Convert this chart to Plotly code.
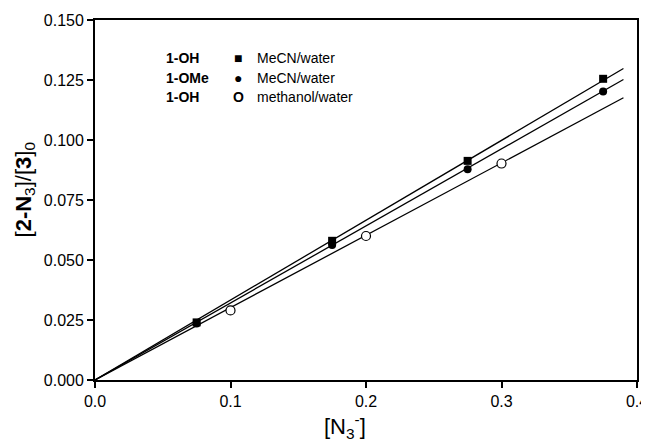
import plotly.graph_objects as go

# Data
x_mecn = [0.075, 0.175, 0.275, 0.375]
y_oh_mecn = [0.0240, 0.0580, 0.0913, 0.1255]
y_ome_mecn = [0.0235, 0.0562, 0.0878, 0.1202]
x_meoh = [0.1, 0.2, 0.3]
y_oh_meoh = [0.0290, 0.0600, 0.0902]

fit_x = [0.0, 0.39]
slope_oh_mecn = 0.3328
slope_ome_mecn = 0.3210
slope_oh_meoh = 0.3015

x_ticks = [0.0, 0.1, 0.2, 0.3, 0.4]
y_ticks = [0.000, 0.025, 0.050, 0.075, 0.100, 0.125, 0.150]

legend_labels = ["<b>1-OH</b>", "<b>1-OMe</b>", "<b>1-OH</b>"]
legend_symbols = ["■", "●", "<b>O</b>"]
legend_solvents = ["MeCN/water", "MeCN/water", "methanol/water"]

x_title = "[N<sub>3</sub><sup>-</sup>]"
y_title = "[<b>2-N</b><sub>3</sub>]/[<b>3</b>]<sub>0</sub>"

FONT = "Liberation Sans, Arial, Helvetica, sans-serif"

fig = go.Figure()

for s in [slope_oh_mecn, slope_ome_mecn, slope_oh_meoh]:
    fig.add_trace(go.Scatter(x=fit_x, y=[s * v for v in fit_x], mode="lines",
                             line=dict(color="black", width=1.3), showlegend=False,
                             hoverinfo="skip"))

fig.add_trace(go.Scatter(x=x_mecn, y=y_oh_mecn, mode="markers",
                         marker=dict(symbol="square", size=8, color="black"),
                         showlegend=False))
fig.add_trace(go.Scatter(x=x_mecn, y=y_ome_mecn, mode="markers",
                         marker=dict(symbol="circle", size=8, color="black"),
                         showlegend=False))
fig.add_trace(go.Scatter(x=x_meoh, y=y_oh_meoh, mode="markers",
                         marker=dict(symbol="circle", size=9, color="white",
                                     line=dict(color="black", width=1.2)),
                         showlegend=False))

row_y = [0.895, 0.84, 0.787]
for i in range(3):
    fig.add_annotation(xref="paper", yref="paper", x=0.128, y=row_y[i],
                       text=legend_labels[i], showarrow=False, xanchor="left",
                       yanchor="middle", font=dict(size=14, color="black", family=FONT))
    fig.add_annotation(xref="paper", yref="paper", x=0.264, y=row_y[i],
                       text=legend_symbols[i], showarrow=False, xanchor="center",
                       yanchor="middle", font=dict(size=14, color="black", family=FONT))
    fig.add_annotation(xref="paper", yref="paper", x=0.296, y=row_y[i],
                       text=legend_solvents[i], showarrow=False, xanchor="left",
                       yanchor="middle", font=dict(size=14, color="black", family=FONT))

# axis titles
fig.add_annotation(xref="paper", yref="paper", x=0.4616, y=-0.128,
                   text=x_title, showarrow=False, xanchor="center", yanchor="middle",
                   font=dict(size=22, color="black", family=FONT))
fig.add_annotation(xref="paper", yref="paper", x=-0.13, y=0.528,
                   text=y_title, showarrow=False, xanchor="center", yanchor="middle",
                   textangle=-90, font=dict(size=22, color="black", family=FONT))

fig.update_layout(
    width=641, height=439,
    margin=dict(l=87, r=12.4, t=12, b=66.5),
    paper_bgcolor="white", plot_bgcolor="white",
    font=dict(family=FONT, size=16, color="black"),
    xaxis=dict(range=[0, 0.4], tickvals=x_ticks, tickformat=".1f",
               showgrid=False, zeroline=False, showline=True, linecolor="black",
               linewidth=1.8, mirror=True, ticks="outside", ticklen=6,
               tickcolor="black", tickwidth=1.5, automargin=False,
               tickfont=dict(size=16)),
    yaxis=dict(range=[0, 0.15], tickvals=y_ticks, tickformat=".3f",
               showgrid=False, zeroline=False, showline=True, linecolor="black",
               linewidth=1.8, mirror=True, ticks="outside", ticklen=6,
               tickcolor="black", tickwidth=1.5, automargin=False,
               tickfont=dict(size=16)),
)

fig.write_html("out.html")
